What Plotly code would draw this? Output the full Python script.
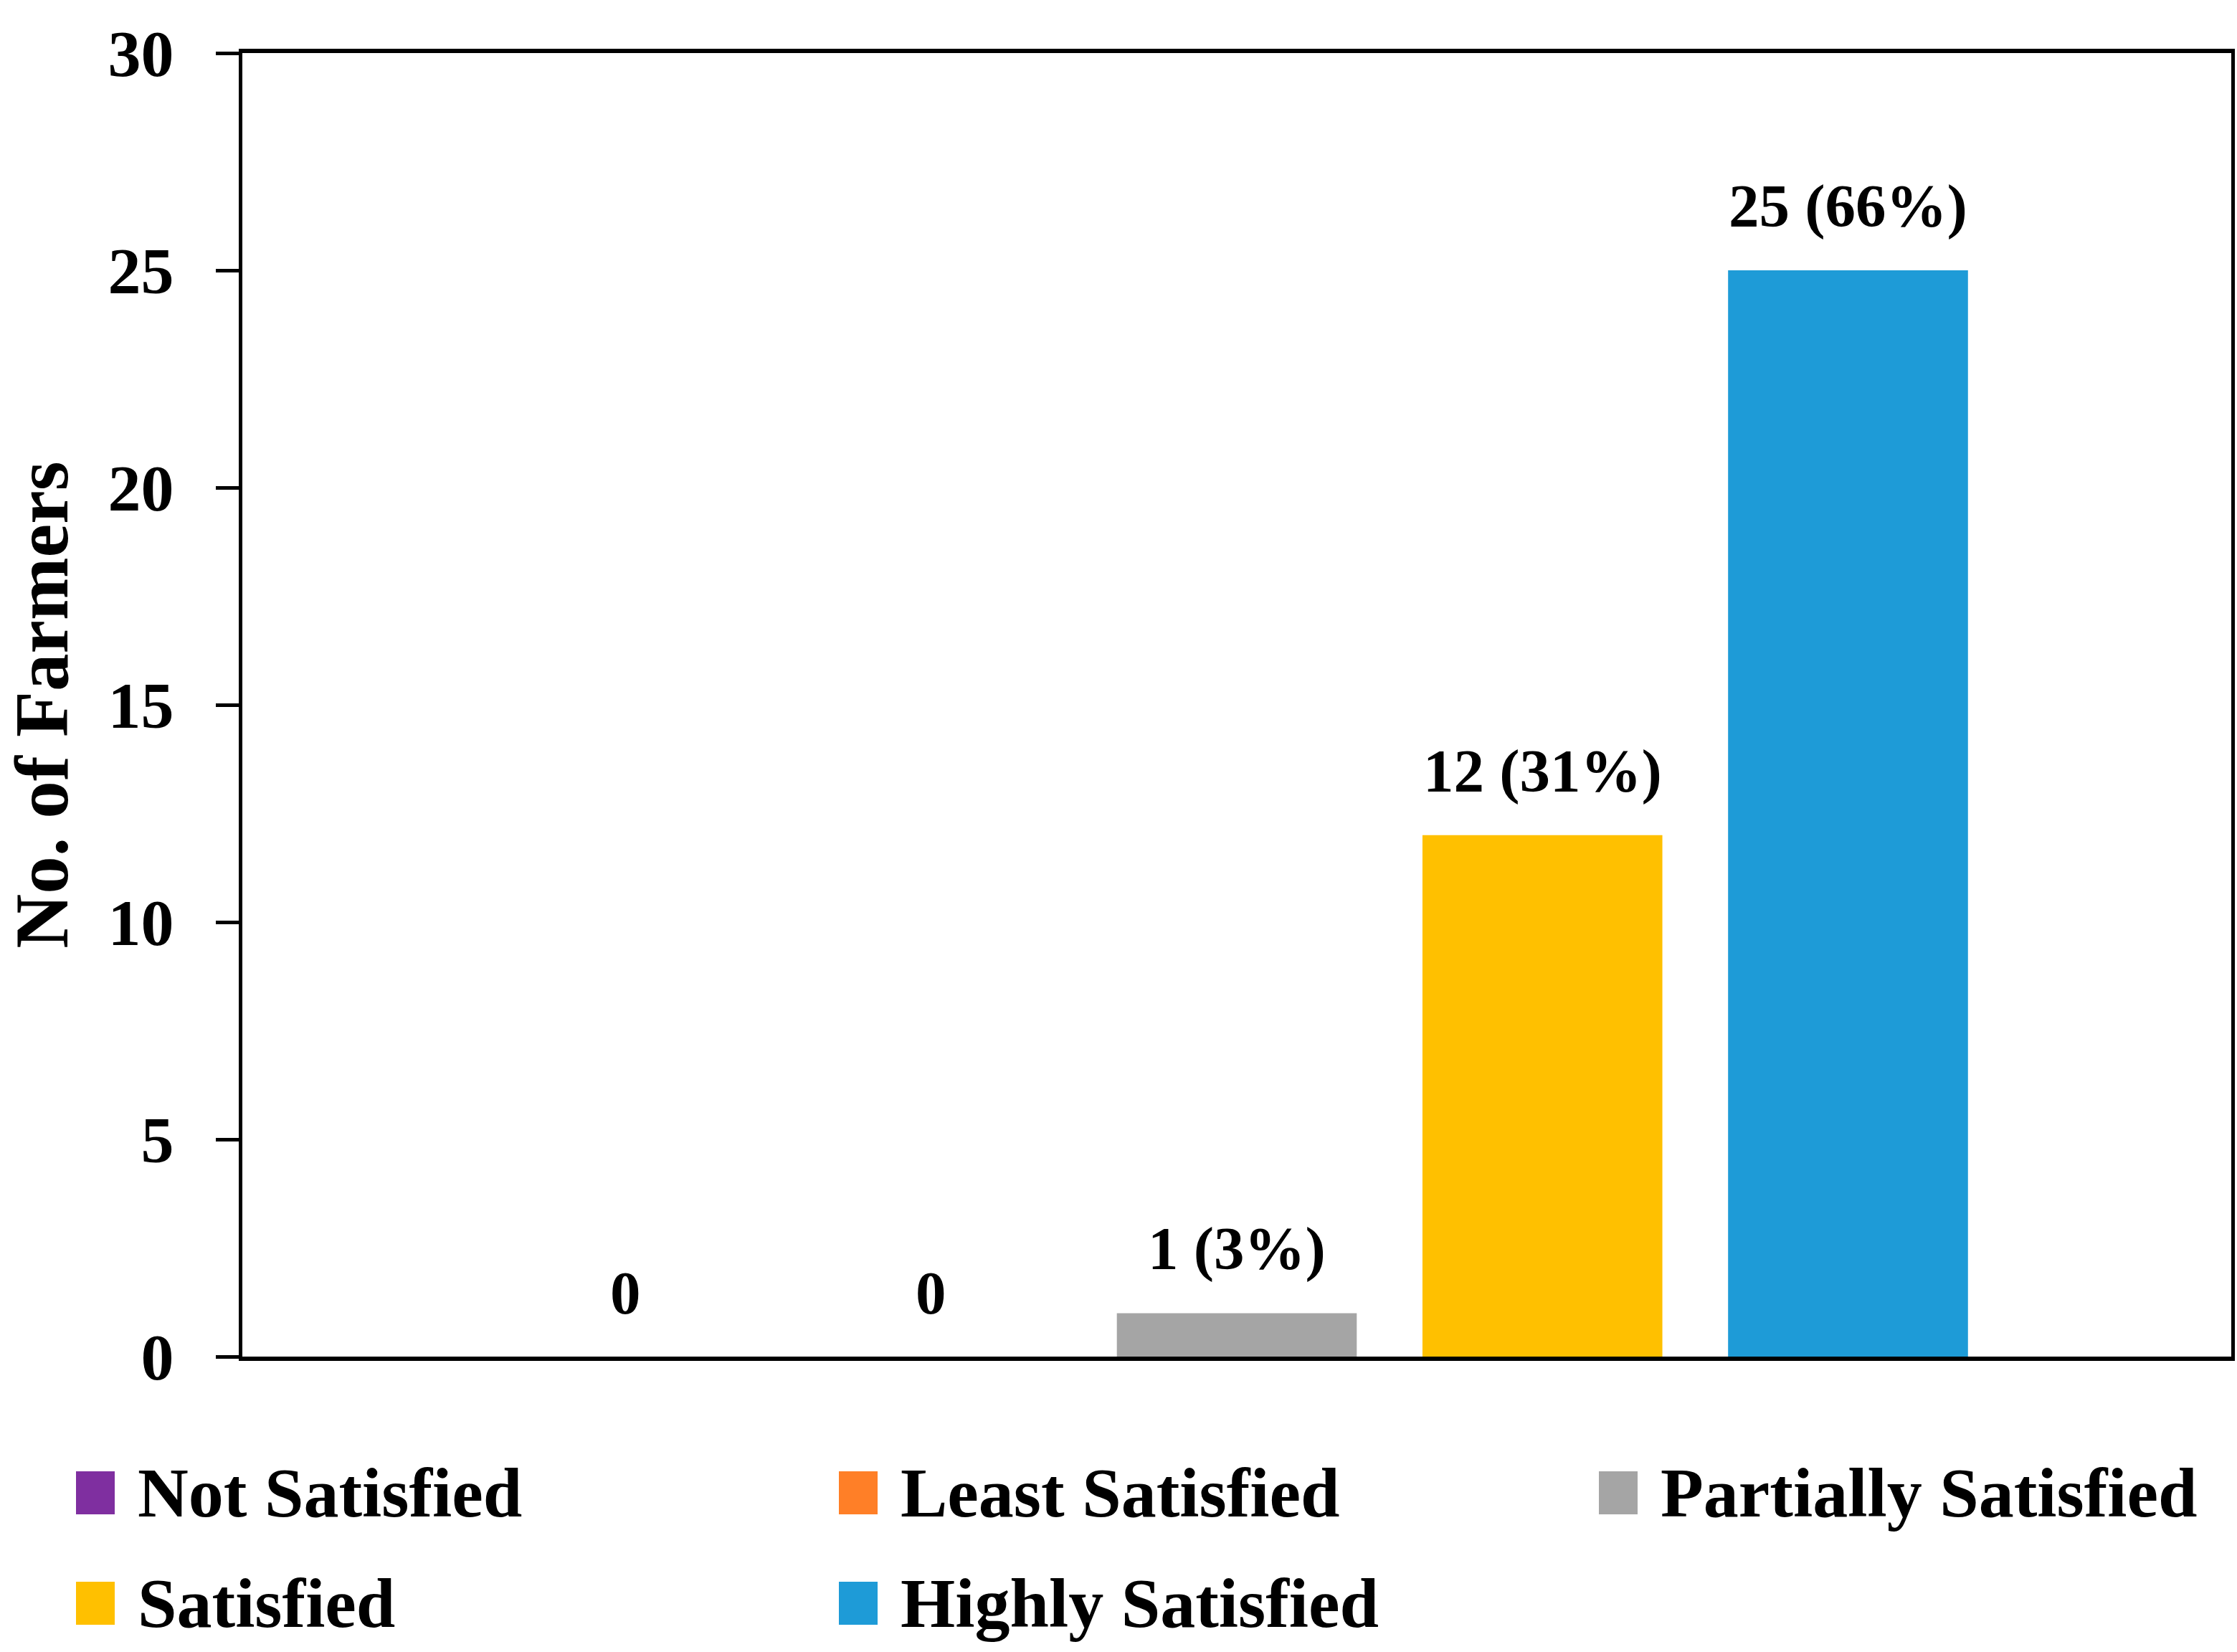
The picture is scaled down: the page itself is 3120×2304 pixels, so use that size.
import plotly.graph_objects as go

# ---- data ----
categories = ["Not Satisfied", "Least Satisfied", "Partially Satisfied", "Satisfied", "Highly Satisfied"]
farmers = [0, 0, 1, 12, 25]
percent = [0, 0, 3, 31, 66]
colors = ["#7F2FA0", "#FF7F27", "#A5A5A5", "#FFC000", "#1E9BD7"]
y_ticks = [0, 5, 10, 15, 20, 25, 30]

# ---- layout constants (px) ----
W, H = 3120, 2304
ML, MR, MT, MB = 338, 8, 74, 412
PW, PH = W - ML - MR, H - MT - MB
FONT = "Liberation Serif"


def px_x(px):
    return (px - ML) / PW


def px_y(py):
    return (H - MB - py) / PH


x_pos = list(range(len(categories)))
labels = [f"{c} ({p}%)" if c > 0 else f"{c}" for c, p in zip(farmers, percent)]

fig = go.Figure()
fig.add_trace(go.Bar(
    x=x_pos, y=farmers, width=0.785,
    marker=dict(color=colors, line=dict(width=0)),
    showlegend=False, hoverinfo="skip",
))

# data labels above bars
for xi, yi, lab in zip(x_pos, farmers, labels):
    fig.add_annotation(x=xi, y=yi, xref="x", yref="y", text=f"<b>{lab}</b>",
                       showarrow=False, yanchor="bottom", xanchor="center", yshift=40,
                       font=dict(family=FONT, size=85, color="black"))

# custom legend (3 per row)
col_px = [106, 1170, 2230]
row_py = [2082, 2236]
sq_w, sq_h, txt_off = 54, 60, 84
for i, (name, col) in enumerate(zip(categories, colors)):
    cx = col_px[i % 3]
    cy = row_py[i // 3]
    fig.add_shape(type="rect", xref="paper", yref="paper",
                  x0=px_x(cx), x1=px_x(cx + sq_w),
                  y0=px_y(cy - sq_h / 2), y1=px_y(cy + sq_h / 2),
                  fillcolor=col, line=dict(width=0), layer="above")
    fig.add_annotation(x=px_x(cx + txt_off), y=px_y(cy), xref="paper", yref="paper",
                       text=f"<b>{name}</b>", showarrow=False, xanchor="left", yanchor="middle",
                       font=dict(family=FONT, size=98, color="black"))

fig.update_layout(
    width=W, height=H,
    margin=dict(l=ML, r=MR, t=MT, b=MB, autoexpand=False),
    paper_bgcolor="white", plot_bgcolor="white",
    font=dict(family=FONT, color="black"),
    bargap=0.2,
)
fig.update_xaxes(
    range=[-1.254, 5.254], showticklabels=False, ticks="", showgrid=False, zeroline=False,
    showline=True, linecolor="black", linewidth=6, mirror=True,
)
fig.update_yaxes(
    range=[0, 30], tickvals=y_ticks, ticktext=[f"<b>{v}</b>" for v in y_ticks],
    ticks="outside", ticklen=32, tickwidth=5, tickcolor="black",
    tickfont=dict(family=FONT, size=92, color="black"), ticklabelstandoff=40,
    showgrid=False, zeroline=False,
    showline=True, linecolor="black", linewidth=5, mirror=True,
    title=dict(text="<b>No. of Farmers</b>", font=dict(family=FONT, size=105, color="black"), standoff=22),
)

fig.write_html("out.html", config={"displayModeBar": False},
               post_script="document.body.style.margin='0';")
